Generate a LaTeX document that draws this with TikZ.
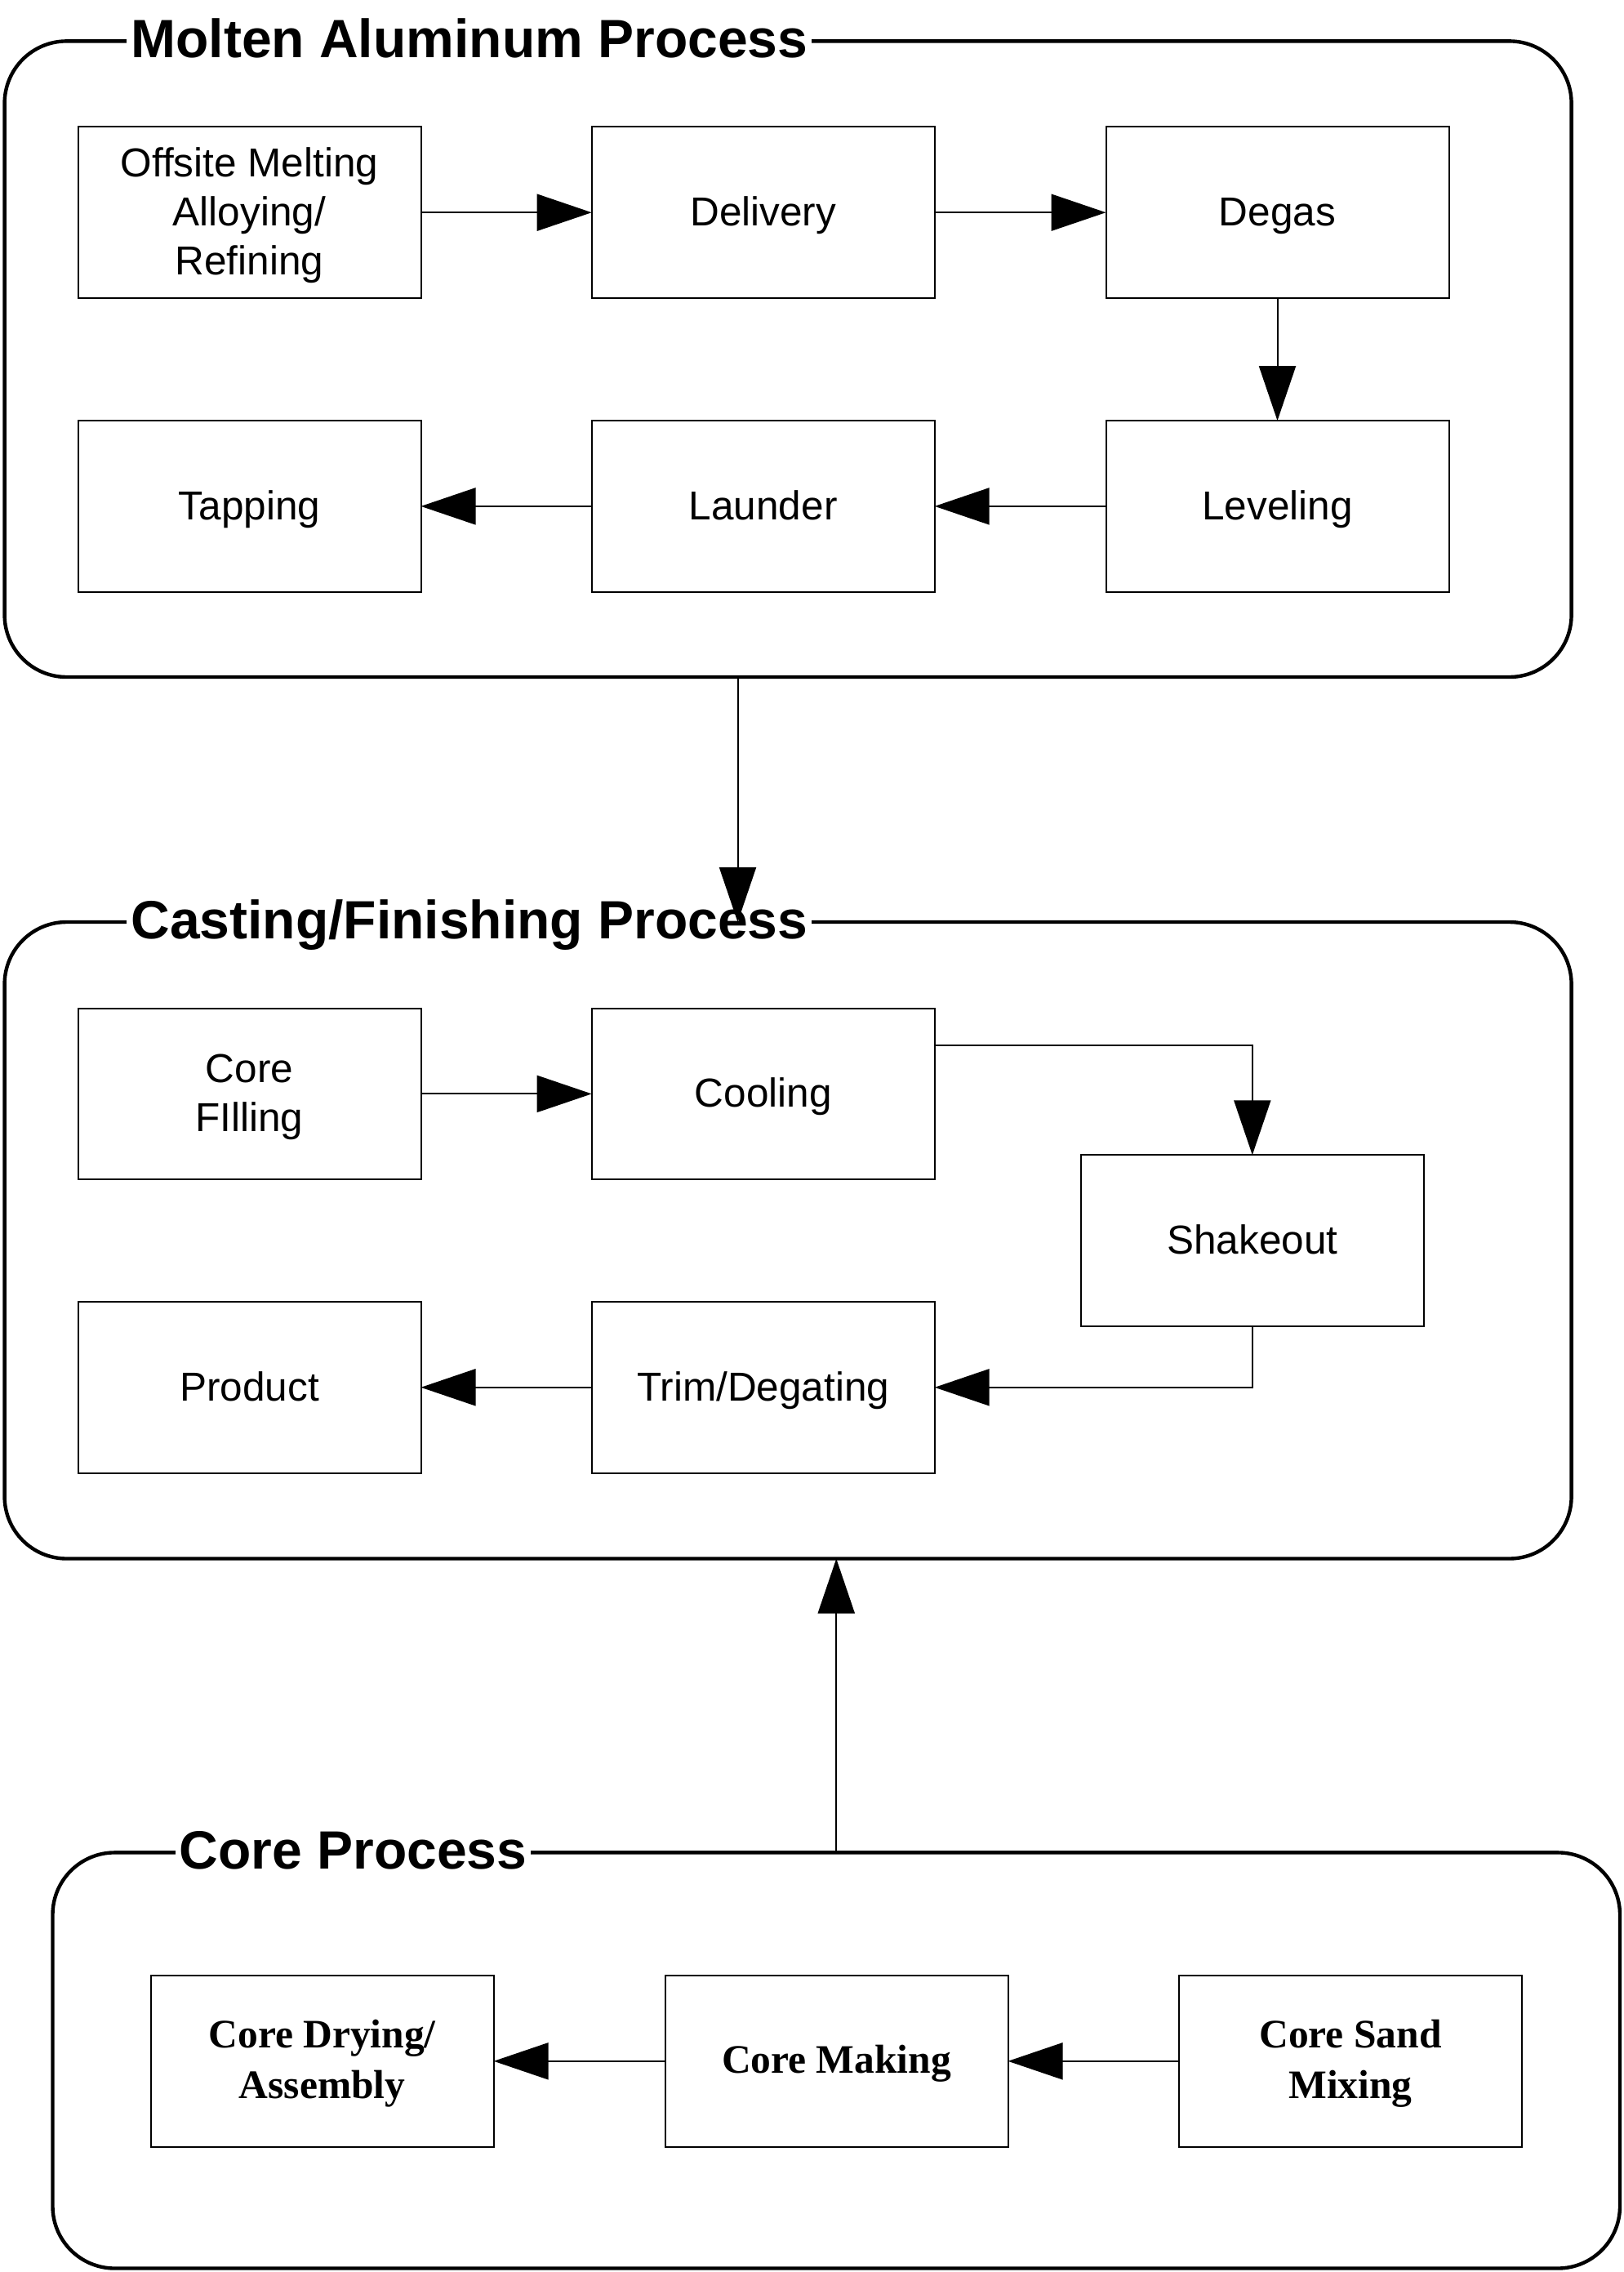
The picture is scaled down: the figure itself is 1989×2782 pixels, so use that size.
\documentclass[tikz,border=0pt]{standalone}
\usepackage{fontspec}
\setmainfont{Liberation Sans}
\newfontfamily\timesfont{Liberation Serif}
\usetikzlibrary{arrows.meta}
\begin{document}
\begin{tikzpicture}[x=0.5pt,y=-0.5pt,
  group/.style={draw, line width=2.2pt, rounded corners=38pt, minimum width=959.5pt, outer sep=0pt, inner sep=0pt},
  stepbox/.style={draw, line width=1pt, minimum width=210pt, minimum height=104.75pt, inner sep=0pt, outer sep=0pt, align=center, font=\fontsize{24.75}{30}\selectfont, text height=18pt, text depth=1.8pt},
  twolines/.style={text height=48pt},
  threelines/.style={text height=78pt},
  corebox/.style={stepbox, font=\timesfont\bfseries\fontsize{24.75}{31}\selectfont, text height=16.4pt, text depth=1.4pt},
  coretwo/.style={text height=47.4pt},
  grouptitle/.style={anchor=base west, fill=white, inner xsep=2.5pt, inner ysep=0pt, font=\bfseries\fontsize{33}{36}\selectfont},
  arr/.style={-{Triangle[length=33.5pt,width=22.5pt]}, line width=1pt},
]
\useasboundingbox[fill=white] (0,0) rectangle (1989,2782);

% group frames
\node[group, minimum height=389.3pt] (g1) at (965.1,439.7) {};
\node[group, minimum height=389.75pt] (g2) at (965.1,1518.75) {};
\node[group, minimum width=959.75pt, minimum height=254.55pt] (g3) at (1024.25,2522.95) {};

% group titles
\node[grouptitle] (t1) at (155,70.5) {Molten Aluminum Process};
\node[grouptitle] (t2) at (155,1149) {Casting/Finishing Process};
\node[grouptitle] (t3) at (214.5,2288.5) {Core Process};

% Molten aluminum process
\node[stepbox, threelines] (off)  at (305.5,260.2) {Offsite Melting\\Alloying/\\Refining};
\node[stepbox] (del)  at (934.7,260.2) {Delivery};
\node[stepbox] (deg)  at (1564.5,260.2) {Degas};
\node[stepbox] (tap)  at (305.5,619.9) {Tapping};
\node[stepbox] (laun) at (934.7,619.9) {Launder};
\node[stepbox] (lev)  at (1564.5,619.9) {Leveling};

% Casting/finishing process
\node[stepbox, twolines] (cf)    at (305.5,1339.4) {Core\\FIlling};
\node[stepbox] (cool)  at (934.7,1339.4) {Cooling};
\node[stepbox] (shake) at (1533.8,1519) {Shakeout};
\node[stepbox] (prod)  at (305.5,1698.8) {Product};
\node[stepbox] (trim)  at (934.7,1698.8) {Trim/Degating};

% Core process
\node[corebox, coretwo] (dry)  at (394.6,2523.8) {Core Drying/\\Assembly};
\node[corebox] (make) at (1024.5,2523.8) {Core Making};
\node[corebox, coretwo] (sand) at (1654,2523.8) {Core Sand\\Mixing};

% connectors
\draw[arr] (off) -- (del);
\draw[arr] (del) -- (deg);
\draw[arr] (deg) -- (lev);
\draw[arr] (lev) -- (laun);
\draw[arr] (laun) -- (tap);

\draw[arr] (cf) -- (cool);
\draw[arr] ([yshift=29.9pt]cool.east) -| (shake.north);
\draw[arr] (shake.south) |- (trim.east);
\draw[arr] (trim) -- (prod);

\draw[arr] (sand) -- (make);
\draw[arr] (make) -- (dry);

\draw[arr] ([xshift=-30.8pt]g1.south) -- ([xshift=-30.8pt]g2.north);
\draw[arr] (g3.north) -- (g3.north |- g2.south);
\end{tikzpicture}
\end{document}
